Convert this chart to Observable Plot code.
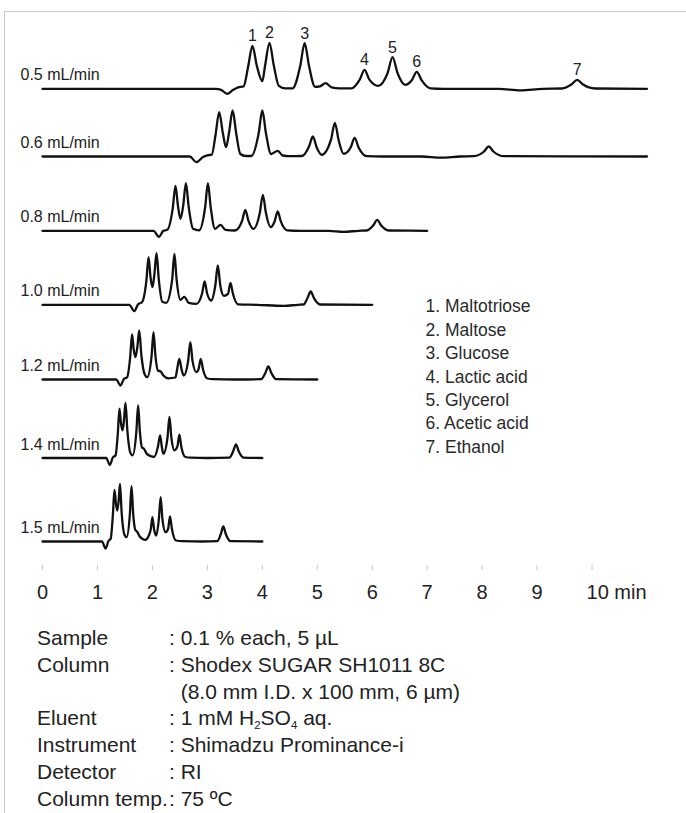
<!DOCTYPE html>
<html>
<head>
<meta charset="utf-8">
<script src="https://cdn.jsdelivr.net/npm/d3@7"></script>
<script src="https://cdn.jsdelivr.net/npm/@observablehq/plot@0.6"></script>
<style>
  body { margin: 0; background: #fff; }
  #wrap { position: relative; width: 686px; height: 813px; overflow: hidden;
          font-family: "Liberation Sans", Arial, sans-serif; color: #222; }
  #frame { position: absolute; left: 4px; top: 11px; right: -2px; bottom: -2px;
           border-top: 1px solid #c8c8c8; border-left: 1px solid #c8c8c8; }
  #chart { position: absolute; left: 0; top: 0; }
  #cond { position: absolute; left: 37px; top: 625px; font-size: 21px; line-height: 26.8px; }
  .row { display: flex; white-space: nowrap; }
  .lab { width: 132px; }
  .hid { visibility: hidden; }
  sub { font-size: 11.5px; line-height: 0; vertical-align: -4px; }
</style>
</head>
<body>
<div id="wrap">
  <div id="frame"></div>
  <div id="chart"></div>
  <div id="cond"></div>
</div>
<script>
// ---- data ----
const flows = ["0.5 mL/min", "0.6 mL/min", "0.8 mL/min", "1.0 mL/min", "1.2 mL/min", "1.4 mL/min", "1.5 mL/min"];
// baseline level of each trace (signal units)
const baselines = [472.7, 405, 330.7, 256.7, 182, 103.5, 20];

// [time (min), signal above baseline]
const trace05 = [[0,0],[3.15,0],[3.25,-1],[3.36,-5],[3.47,-1],[3.56,1.5],[3.66,2.5],[3.74,21.5],[3.82,43],[3.9,23],[4.0,7.6],[4.05,23],[4.13,46],[4.21,23],[4.3,3],[4.42,0.5],[4.55,0.5],[4.69,22.8],[4.77,45.6],[4.85,22.8],[4.96,2],[5.05,2.5],[5.15,5.6],[5.26,1.5],[5.4,0.5],[5.62,0.5],[5.775,9.5],[5.86,19],[5.945,9.5],[6.11,3],[6.28,15.8],[6.37,31.6],[6.46,15.8],[6.6,4],[6.72,8.5],[6.81,17],[6.9,8.5],[7.06,0.5],[7.3,0],[8.3,0],[8.7,-1.5],[9.1,0],[9.45,0.3],[9.63,4.5],[9.73,9],[9.83,4.5],[10.06,0.3],[11,0]];
const trace06 = [[0,0],[2.68,0],[2.8,-5.7],[2.92,-0.5],[3.0,1.2],[3.08,1.8],[3.15,22],[3.215,44.3],[3.28,24],[3.34,9.3],[3.395,24],[3.46,46],[3.525,23],[3.6,2.5],[3.7,0.5],[3.8,0.5],[3.933,23],[4.0,46],[4.067,23],[4.16,2.5],[4.28,5.7],[4.37,1],[4.5,0.3],[4.72,0.5],[4.85,10],[4.92,20],[4.99,9],[5.08,1.7],[5.25,16.8],[5.32,33.7],[5.39,16],[5.48,2.7],[5.61,9.3],[5.68,18.7],[5.75,9.3],[5.9,0.3],[6.2,0],[6.9,0],[7.25,-1.2],[7.6,0],[7.85,0.3],[8.035,5],[8.12,10],[8.205,5],[8.4,0.3],[11,0]];
const trace08 = [[0,0],[2.02,0],[2.12,-6],[2.2,0],[2.27,1],[2.37,22.5],[2.42,45],[2.465,25],[2.51,12],[2.56,25],[2.61,47.6],[2.66,24],[2.74,2],[2.85,0.5],[2.96,23.8],[3.01,47.6],[3.06,23.8],[3.14,2],[3.24,6],[3.33,1],[3.5,0.3],[3.635,10.5],[3.69,21],[3.745,10.5],[3.84,2],[3.955,18],[4.01,36],[4.065,18],[4.15,3.6],[4.225,9.6],[4.28,19.3],[4.335,9.6],[4.45,0.5],[4.7,0],[5.2,0],[5.48,-1],[5.75,0],[5.9,0.3],[6.02,5.5],[6.09,11],[6.16,5.5],[6.3,0.3],[7,0]];
const trace10 = [[0,0],[1.58,0],[1.67,-6.3],[1.74,0.5],[1.81,2.6],[1.89,24],[1.93,47.6],[1.965,28],[2.0,17.6],[2.035,30],[2.075,51.6],[2.115,26],[2.18,3],[2.25,2],[2.36,25.5],[2.4,51],[2.44,25.5],[2.51,5],[2.58,8],[2.66,2],[2.8,1],[2.905,11.6],[2.95,23.3],[2.995,11.6],[3.07,4.3],[3.145,19.6],[3.19,39.3],[3.235,19.6],[3.3,9],[3.375,11],[3.42,22],[3.465,11],[3.56,0.5],[3.9,0],[4.39,-1],[4.65,0],[4.75,0.3],[4.82,6.6],[4.88,13.3],[4.94,6.6],[5.05,0.3],[6,0]];
const trace12 = [[0,0],[1.34,0],[1.42,-6],[1.48,0.5],[1.54,2.3],[1.595,22],[1.63,45],[1.66,30],[1.69,22.3],[1.725,32],[1.76,49],[1.8,24],[1.86,5],[1.905,2.3],[1.985,23.6],[2.02,47.3],[2.055,23.6],[2.1,9],[2.15,8],[2.2,4],[2.29,1.2],[2.42,2],[2.45,10.3],[2.49,20.7],[2.53,10.3],[2.57,4],[2.65,18.6],[2.69,37.3],[2.73,18.6],[2.8,7.3],[2.84,10.3],[2.88,20.7],[2.92,10.3],[3.0,1],[3.1,0.3],[3.5,0],[3.98,0.3],[4.055,6.5],[4.11,13],[4.165,6.5],[4.25,0.3],[5,0]];
const trace14 = [[0,0],[1.16,0],[1.225,-7],[1.28,0.5],[1.33,2.7],[1.37,24],[1.4,49.3],[1.43,34],[1.456,27.7],[1.48,36],[1.51,55],[1.545,27],[1.6,5],[1.64,2.7],[1.708,26.3],[1.74,52.7],[1.772,26.3],[1.81,10.5],[1.845,9.3],[1.9,4],[2.03,1],[2.1,11.3],[2.14,22.7],[2.17,11.5],[2.2,4.3],[2.275,20.5],[2.31,41],[2.345,20.5],[2.4,7.7],[2.455,11.6],[2.49,23.3],[2.525,11.6],[2.6,1],[2.7,0.3],[3.0,0],[3.4,0.3],[3.47,6.8],[3.52,13.7],[3.57,6.8],[3.66,0.3],[4,0]];
const trace15 = [[0,0],[1.08,0],[1.15,-7],[1.2,0.5],[1.24,2.7],[1.28,26],[1.31,51.7],[1.338,37],[1.36,31],[1.383,39],[1.41,57.7],[1.44,29],[1.49,7],[1.53,4.3],[1.59,27.6],[1.62,55.3],[1.65,27.6],[1.69,11.5],[1.72,10],[1.77,5],[1.87,1.7],[1.935,6],[1.97,12.1],[2.0,24.3],[2.03,12.2],[2.07,6],[2.117,22],[2.15,44.3],[2.183,22],[2.24,9.3],[2.285,12.5],[2.32,25],[2.355,12.5],[2.43,1],[2.55,0.3],[2.9,0],[3.18,0.3],[3.245,7.5],[3.29,15],[3.335,7.5],[3.42,0.3],[4,0]];
const traces = [trace05, trace06, trace08, trace10, trace12, trace14, trace15];

// peak numbering on the 0.5 mL/min trace
const peakNumbers = ["1", "2", "3", "4", "5", "6", "7"];
const peakTimes05 = [3.82, 4.13, 4.77, 5.86, 6.37, 6.81, 9.73];
const peakHeights05 = [43, 46, 45.6, 19, 31.6, 17, 9];

const compounds = ["Maltotriose", "Maltose", "Glucose", "Lactic acid", "Glycerol", "Acetic acid", "Ethanol"];
const xTicks = [0, 1, 2, 3, 4, 5, 6, 7, 8, 9, 10];
const xUnit = "min";

const conditionLabels = ["Sample", "Column", "", "Eluent", "Instrument", "Detector", "Column temp."];
const conditionValues = ["0.1 % each, 5 µL", "Shodex SUGAR SH1011 8C", "(8.0 mm I.D. x 100 mm, 6 µm)",
  "1 mM H<sub>2</sub>SO<sub>4</sub> aq.", "Shimadzu Prominance-i", "RI", "75 ºC"];

// ---- build tables ----
const lineData = traces.flatMap((tr, i) => tr.map(([t, s]) => ({flow: flows[i], t, v: baselines[i] + s})));
const flowLabels = flows.map((f, i) => ({flow: f, t: 0, v: baselines[i]}));
const peakLabels = peakNumbers.map((n, i) => ({n, t: peakTimes05[i], v: baselines[0] + peakHeights05[i]}));
const legendText = compounds.map((c, i) => `${i + 1}. ${c}`).join("\n");
const lastTick = xTicks[xTicks.length - 1];

const chart = Plot.plot({
  width: 686,
  height: 612,
  marginLeft: 42,
  marginRight: 39.5,
  marginTop: 0,
  marginBottom: 47,
  style: {fontFamily: "'Liberation Sans', Arial, sans-serif", color: "#222", background: "transparent", overflow: "visible"},
  x: {domain: [0, 11]},
  y: {domain: [-4, 561], axis: null},
  marks: [
    Plot.axisX({ticks: xTicks, tickSize: 5, tickPadding: 14.5, fontSize: 20, stroke: "#c4c4c4", fill: "#222", label: null,
                tickFormat: d => d === lastTick ? "" : String(d)}),
    Plot.text([`${lastTick} ${xUnit}`], {x: () => lastTick, frameAnchor: "bottom", dy: 19.5, dx: -5.5, text: d => d,
                textAnchor: "start", lineAnchor: "top", fontSize: 20, fill: "#222"}),
    Plot.line(lineData, {x: "t", y: "v", z: "flow", curve: "monotone-x", stroke: "#111", strokeWidth: 2.3, strokeLinejoin: "round"}),
    Plot.text(flowLabels, {x: "t", y: "v", text: "flow", textAnchor: "start", dx: -22, dy: -13.5, fontSize: 16, fill: "#222"}),
    Plot.text(peakLabels, {x: "t", y: "v", text: "n", dy: -9.5, fontSize: 16, fill: "#222"}),
    Plot.text([legendText], {x: () => 6.97, y: () => 186.5, text: d => d, textAnchor: "start", lineAnchor: "middle", lineHeight: 1.337, fontSize: 17.5, fill: "#2a2a2a"})
  ]
});
document.getElementById("chart").appendChild(chart);

// ---- conditions ----
const cond = document.getElementById("cond");
conditionLabels.forEach((lab, i) => {
  const row = document.createElement("div");
  row.className = "row";
  const colon = lab ? ": " : "<span class='hid'>: </span>";
  row.innerHTML = `<div class="lab">${lab}</div><div>${colon}${conditionValues[i]}</div>`;
  cond.appendChild(row);
});
</script>
</body>
</html>
